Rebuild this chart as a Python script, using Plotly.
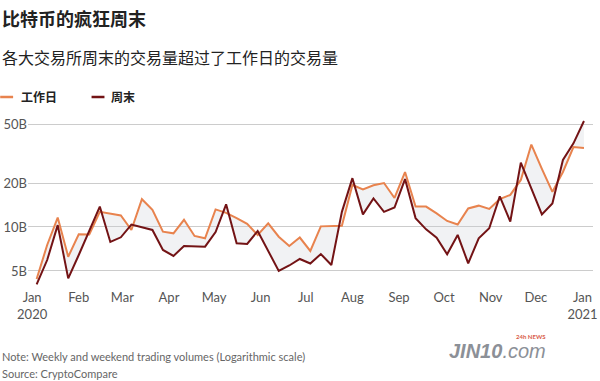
import plotly.graph_objects as go
import pandas as pd

# ---- data (billions USD), weekly, log scale ----
week_start = "2020-01-04"
n_weeks = 53
weekday_vol = [4.40, 7.53, 11.6, 6.26, 8.91, 8.88, 12.7, 12.4, 12.0, 9.54,
               15.5, 13.1, 9.29, 9.05, 11.2, 8.68, 8.37, 13.2, 12.5, 11.5,
               10.5, 8.82, 10.6, 8.58, 7.41, 8.47, 6.85, 10.1, 10.2, 10.2,
               19.4, 18.1, 19.3, 20.0, 15.8, 23.8, 13.8, 13.8, 12.4, 11.0,
               10.4, 13.4, 14.0, 13.3, 15.5, 16.6, 21.0, 36.7, 25.0, 17.4,
               23.8, 35.3, 34.8]
weekend_vol = [4.05, 5.94, 10.3, 4.45, 6.43, 9.54, 13.8, 7.90, 8.50, 10.4,
               10.0, 9.54, 6.96, 6.33, 7.41, 7.33, 7.33, 9.24, 14.3, 7.73,
               7.65, 9.39, 6.85, 5.00, 5.45, 6.04, 5.62, 6.53, 5.49, 12.7,
               21.6, 12.2, 15.7, 12.7, 13.6, 21.3, 11.5, 9.64, 8.45, 6.50,
               8.82, 5.64, 8.37, 9.80, 16.2, 10.9, 27.6, 18.4, 12.2, 14.5,
               28.8, 37.4, 53.2]
dates = pd.date_range(week_start, periods=n_weeks, freq="7D")

month_ticks = pd.date_range("2020-01-01", "2021-01-01", freq="MS")
month_labels = ["Jan<br>2020", "Feb", "Mar", "Apr", "May", "Jun", "Jul",
                "Aug", "Sep", "Oct", "Nov", "Dec", "Jan<br>2021"]
y_ticks = [5, 10, 20, 50]
y_labels = ["5B", "10B", "20B", "50B"]

series_names = ["工作日", "周末"]
ORANGE = "#E8834E"
DARK = "#731315"

# ---- layout geometry ----
W, H = 600, 381
L, R, T, B = 28, 3, 115, 93
PW, PH = W - L - R, H - T - B

def px_x(px):
    return (px - L) / PW

def px_y(py):
    return (H - B - py) / PH

fig = go.Figure()
fig.add_trace(go.Scatter(x=dates, y=weekday_vol, mode="lines", name=series_names[0],
                         line=dict(color=ORANGE, width=2), showlegend=False,
                         hoverinfo="skip"))
fig.add_trace(go.Scatter(x=dates, y=weekend_vol, mode="lines", name=series_names[1],
                         line=dict(color=DARK, width=2), fill="tonexty",
                         fillcolor="rgba(200,205,210,0.25)", showlegend=False,
                         hoverinfo="skip"))

fig.update_layout(
    width=W, height=H,
    margin=dict(l=L, r=R, t=T, b=B),
    paper_bgcolor="white", plot_bgcolor="white",
    font=dict(family="Lato, 'Noto Sans CJK SC', sans-serif", color="#555"),
)
fig.update_xaxes(type="date",
                 range=["2019-12-29 06:00", "2021-01-08 00:00"],
                 tickvals=month_ticks, ticktext=month_labels,
                 ticklabeloverflow="allow",
                 showgrid=False, showline=False, zeroline=False, ticks="",
                 tickfont=dict(size=13, color="#555"))
fig.update_yaxes(type="log", range=[0.5822, 1.767],
                 tickvals=y_ticks, ticktext=y_labels,
                 showgrid=True, gridcolor="#cccccc", gridwidth=1,
                 showline=False, zeroline=False, ticks="",
                 tickfont=dict(size=13, color="#555"))

cjk = "'Noto Sans CJK SC', sans-serif"
ann = [
    dict(text="<b>比特币的疯狂周末</b>", x=px_x(0), y=px_y(18), font=dict(size=18, color="#222", family=cjk)),
    dict(text="各大交易所周末的交易量超过了工作日的交易量", x=px_x(0), y=px_y(57), font=dict(size=16, color="#222", family=cjk)),
    dict(text="<b>工作日</b>", x=px_x(19), y=px_y(97), font=dict(size=12, color="#222", family=cjk)),
    dict(text="<b>周末</b>", x=px_x(110), y=px_y(97), font=dict(size=12, color="#222", family=cjk)),
    dict(text="Note: Weekly and weekend trading volumes (Logarithmic scale)", x=px_x(0), y=px_y(356), font=dict(size=11, color="#666", family="Lato, sans-serif")),
    dict(text="Source: CryptoCompare", x=px_x(0), y=px_y(373), font=dict(size=11, color="#666", family="Lato, sans-serif")),
    dict(text="<b><i>JIN10</i></b><i>.com</i>", x=px_x(450), y=px_y(351), font=dict(size=20, color="#8c9097", family="'Liberation Sans', sans-serif")),
    dict(text="<b>24h NEWS</b>", x=px_x(517), y=px_y(336), font=dict(size=6, color="#d9604a", family="Lato, sans-serif")),
]
for a in ann:
    a.update(xref="paper", yref="paper", xanchor="left", yanchor="middle", showarrow=False)
    fig.add_annotation(**a)

fig.add_shape(type="line", xref="paper", yref="paper", x0=px_x(0), x1=px_x(13),
              y0=px_y(97), y1=px_y(97), line=dict(color=ORANGE, width=2.5))
fig.add_shape(type="line", xref="paper", yref="paper", x0=px_x(92), x1=px_x(105),
              y0=px_y(97), y1=px_y(97), line=dict(color=DARK, width=2.5))

fig.write_html("out.html", config={"displayModeBar": False},
               post_script="document.body.style.margin='0';document.body.style.overflow='hidden';")
